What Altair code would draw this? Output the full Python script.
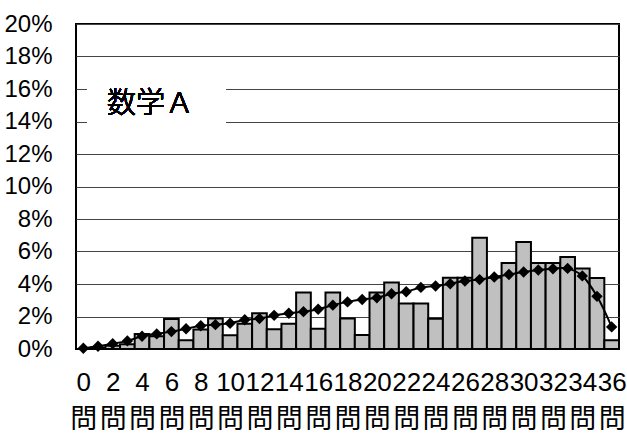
import altair as alt
import pandas as pd

# Number of correct answers (0–36 questions)
questions = list(range(37))

# Share of students per score, in percent (bars)
share_pct = [
    0.0, 0.08, 0.2, 0.3, 0.93, 0.78, 1.85, 0.54, 1.2, 1.87,
    0.85, 1.55, 2.2, 1.22, 1.56, 3.47, 1.24, 3.47, 1.87, 0.86,
    3.47, 4.1, 2.8, 2.8, 1.86, 4.39, 4.39, 6.84, 4.4, 5.29,
    6.58, 5.29, 5.29, 5.66, 4.95, 4.37, 0.54,
]

# Reference distribution, in percent (line with diamonds)
trend_pct = [
    0.05, 0.17, 0.33, 0.5, 0.78, 0.93, 1.07, 1.25, 1.43, 1.5,
    1.58, 1.8, 1.87, 2.07, 2.2, 2.3, 2.45, 2.7, 2.9, 3.05,
    3.15, 3.4, 3.52, 3.79, 3.88, 4.02, 4.18, 4.27, 4.43, 4.58,
    4.74, 4.86, 4.94, 4.96, 4.5, 3.24, 1.36,
]

x_tick_values = list(range(0, 37, 2))
y_tick_values = list(range(0, 21, 2))
x_unit_label = "問"
panel_title = "数学Ａ"

df = pd.DataFrame({"q": questions, "share": share_pct, "trend": trend_pct})
df["lo"] = df["q"] - 0.5
df["hi"] = df["q"] + 0.5

LATIN = "Liberation Sans, Noto Sans CJK JP"
CJK = "Noto Sans CJK JP"

x_scale = alt.Scale(domain=[-0.5, 36.5], nice=False, zero=False)
y_scale = alt.Scale(domain=[0, 20], nice=False)

# Score numbers under every second bar
x_num_axis = alt.Axis(
    orient="bottom",
    values=x_tick_values,
    tickCount=60,
    labelExpr="format(datum.value, 'd')",
    grid=False,
    ticks=False,
    domain=False,
    labelFont=LATIN,
    labelFontSize=26,
    labelColor="black",
    labelPadding=20,
    labelOverlap=False,
    labelBound=False,
    labelAngle=0,
    title=None,
)

# Second row: the unit character under each number
x_unit_axis = alt.Axis(
    orient="bottom",
    values=x_tick_values,
    tickCount=60,
    labelExpr=f"'{x_unit_label}'",
    grid=False,
    ticks=False,
    domain=False,
    labelFont=CJK,
    labelFontSize=27,
    labelColor="black",
    labelPadding=57,
    labelOverlap=False,
    labelBound=False,
    labelAngle=0,
    title=None,
)

y_axis = alt.Axis(
    orient="left",
    values=y_tick_values,
    tickCount=60,
    labelExpr="datum.value + '%'",
    grid=True,
    gridColor="#444444",
    gridWidth=1,
    ticks=False,
    domain=False,
    labelFont=LATIN,
    labelFontSize=24,
    labelColor="black",
    labelPadding=24,
    labelOverlap=False,
    title=None,
)

base = alt.Chart(df)

bars = base.mark_bar(fill="#c0c0c0", stroke="black", strokeWidth=2).encode(
    x=alt.X("lo:Q", scale=x_scale, axis=x_num_axis),
    x2="hi:Q",
    y=alt.Y("share:Q", scale=y_scale, axis=y_axis),
    y2=alt.datum(0),
)

# White backing box behind the subject label
label_box = base.mark_rect(fill="white").encode(
    x=alt.X(datum=0.25, scale=x_scale, axis=None),
    x2=alt.datum(9.72),
    y=alt.Y(datum=13.3, scale=y_scale, axis=None),
    y2=alt.datum(16.8),
)

label_text = base.mark_text(
    text=panel_title, font=CJK, fontSize=29, fontWeight=300, color="black",
    align="center", baseline="middle",
).encode(
    x=alt.X(datum=4.57, scale=x_scale, axis=None),
    y=alt.Y(datum=15.08, scale=y_scale, axis=None),
)

line = base.mark_line(color="black", strokeWidth=2, interpolate="catmull-rom").encode(
    x=alt.X("q:Q", scale=x_scale, axis=None),
    y=alt.Y("trend:Q", scale=y_scale, axis=None),
)

points = base.mark_point(
    shape="diamond", filled=True, color="black", size=130, opacity=1
).encode(
    x=alt.X("q:Q", scale=x_scale, axis=x_unit_axis),
    y=alt.Y("trend:Q", scale=y_scale, axis=None),
)

chart = (
    alt.layer(bars, label_box, label_text, line, points)
    .resolve_axis(x="independent", y="independent")
    .properties(
        width=543,
        height=325,
        autosize=alt.AutoSizeParams(type="none"),
        padding={"left": 76, "top": 24, "right": 8, "bottom": 88},
        background="white",
    )
    .configure_view(stroke="black", strokeWidth=2)
)

chart.save("out.html", embed_options={"renderer": "svg", "actions": False})
